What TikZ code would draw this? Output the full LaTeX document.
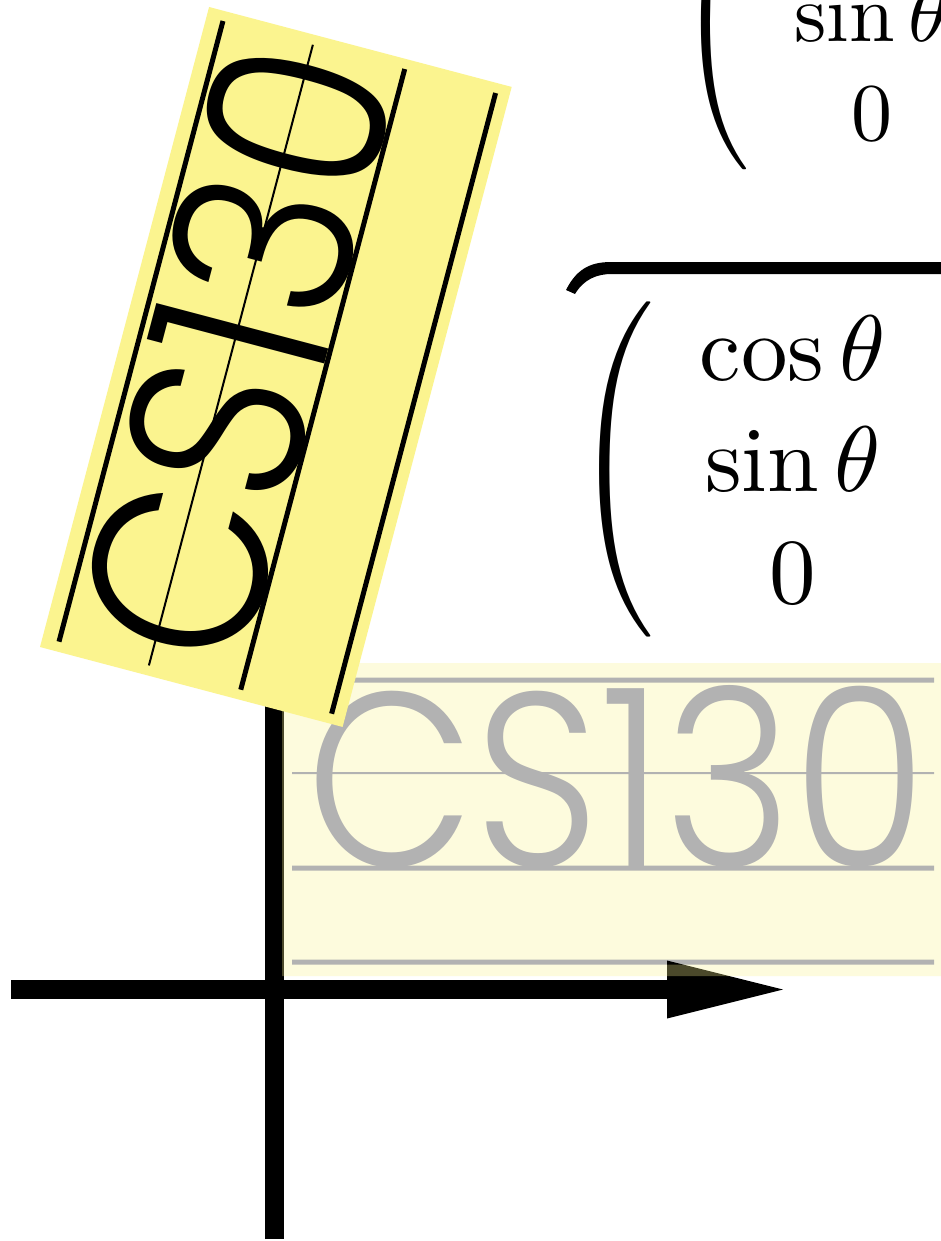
\documentclass[tikz,border=0pt]{standalone}
\usepackage{graphicx}
\usepackage{fontspec}
\usetikzlibrary{arrows.meta}
\IfFontExistsTF{Poppins Light}{\newfontfamily\logofont{Poppins Light}}{%
  \IfFontExistsTF{Poppins ExtraLight}{\newfontfamily\logofont{Poppins ExtraLight}}{\newfontfamily\logofont{Poppins}}}
\definecolor{boxyellow}{RGB}{251,244,143}
\tikzset{
  axisline/.style={line width=19pt, -{Triangle[length=116pt,width=58pt,line width=0pt]}},
  guideline/.style={line width=5pt, black},
  thinguide/.style={line width=2pt, black},
  logotext/.style={anchor=base west, inner sep=0pt, outer sep=0pt, transform shape, font=\logofont},
  matnode/.style={inner sep=0pt, outer sep=0pt, anchor=west}
}
\newcommand\logobox[1]{%
  \fill[boxyellow] (0,0) rectangle (662,313);
  \draw[guideline] (10,17) -- (652,17);
  \draw[thinguide] (10,110) -- (652,110);
  \draw[guideline] (10,205) -- (652,205);
  \draw[guideline] (10,299) -- (652,299);
  \node[logotext] (#1) at (24,203) {\resizebox{620pt}{181pt}{CS130}};
}
\begin{document}
\begin{tikzpicture}[x=1pt,y=-1pt]
  \useasboundingbox (0,0) rectangle (941,1241);
  \clip (0,0) rectangle (941,1241);
  \fill[white] (0,0) rectangle (941,1241);

  % axes
  \coordinate (xl) at (11,989.5);
  \coordinate (xr) at (783,989.5);
  \coordinate (yb) at (274,1239);
  \coordinate (yt) at (274,477);
  \draw[axisline] (xl) -- (xr);
  \draw[axisline] (yb) -- (yt);

  % original (faded) box
  \begin{scope}[shift={(282,663)}, transparency group, opacity=0.3]
    \logobox{logoA}
  \end{scope}

  % rotated box
  \begin{scope}[shift={(40,647)}, rotate=75.2]
    \logobox{logoB}
  \end{scope}

  % matrices
  \node[matnode, scale=8.2] (matA) at (677,22)
    {$\left(\begin{array}{c}\phantom{\cos\theta}\\ \sin\theta\\ 0\end{array}\right.$};
  \node[matnode, scale=9.3] (matB) at (572,469.5)
    {$\left(\begin{array}{c}\cos\theta\\ \sin\theta\\ 0\end{array}\right.$};

  % brace (left end)
  \fill (566,290) .. controls (578,266) and (594,262) .. (612,262) -- (960,262)
        -- (960,274) -- (612,274) .. controls (597,274) and (584,279) .. (575,294) -- cycle;
\end{tikzpicture}
\end{document}
